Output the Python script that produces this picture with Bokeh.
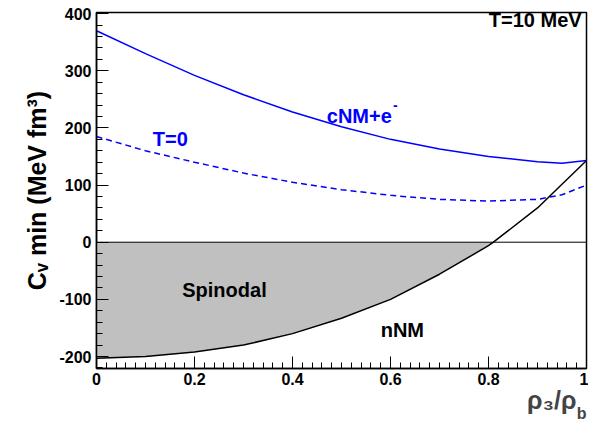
from bokeh.plotting import figure
from bokeh.models import SingleIntervalTicker, Label, Span, Range1d, Title
from bokeh.embed import file_html
from bokeh.resources import INLINE

# data
x_e = [0.0, 0.1, 0.2, 0.3, 0.4, 0.5, 0.6, 0.7, 0.8, 0.9, 0.95, 1.0]
y_e = [370, 330, 292, 258, 228, 202, 180, 163, 150, 141, 138, 143]
x_t0 = [0.0, 0.1, 0.2, 0.3, 0.4, 0.5, 0.6, 0.7, 0.8, 0.9, 0.95, 1.0]
y_t0 = [185, 160, 140, 121, 105, 92, 82, 75, 72, 75, 83, 100]
x_n = [0.0, 0.1, 0.2, 0.3, 0.4, 0.5, 0.6, 0.7, 0.8, 0.81, 0.9, 1.0]
y_n = [-203, -200, -192, -180, -160, -133, -100, -56, -6, 0, 60, 143]
FONT = "Liberation Sans"

p = figure(width=588, height=428, output_backend="svg", toolbar_location=None,
           x_range=Range1d(0, 1), y_range=Range1d(-221, 402),
           min_border_left=96, min_border_right=2, min_border_top=12, min_border_bottom=60)
p.grid.visible = False
p.outline_line_color = "black"
p.outline_line_width = 1.5
p.xaxis.ticker = SingleIntervalTicker(interval=0.2, num_minor_ticks=10)
p.yaxis.ticker = SingleIntervalTicker(interval=100, num_minor_ticks=5)
p.xaxis.major_label_overrides = {0: "0", 0.2: "0.2", 0.4: "0.4", 0.6: "0.6", 0.8: "0.8", 1: "1"}
p.yaxis.major_label_overrides = {-200: "-200", -100: "-100"}
for ax in (p.xaxis, p.yaxis):
    ax.major_tick_in = 12
    ax.major_tick_out = 0
    ax.minor_tick_in = 6
    ax.minor_tick_out = 0
    ax.major_label_text_font = FONT
    ax.major_label_text_font_style = "bold"
    ax.major_label_text_font_size = "16px"
    ax.major_label_text_color = "black"
    ax.axis_line_width = 1.5
    ax.axis_label_text_font = FONT
    ax.axis_label_text_font_style = "bold"
    ax.axis_label_text_font_size = "25px"
    ax.axis_label_text_color = "black"
p.xaxis.major_label_standoff = 4
p.yaxis.axis_label = "Cᵥ min (MeV fm³)"

# x axis label: rho_3 / rho_b built from two stacked titles
p.add_layout(Title(text="ρ₃/ρ", align="right", offset=10, standoff=-8, text_font=FONT,
                   text_font_style="bold", text_font_size="25px", text_line_height=0.8), "below")
p.add_layout(Title(text="b", align="right", offset=0, standoff=-14, text_font=FONT,
                   text_font_style="bold", text_font_size="16px", text_line_height=0.6), "below")

xs = [x for x, y in zip(x_n, y_n) if y <= 0]
ys = [y for y in y_n if y <= 0]
p.varea(x=xs, y1=ys, y2=[0] * len(xs), fill_color="#c0c0c0")
p.add_layout(Span(location=0, dimension="width", line_color="black", line_width=1))
p.line(x_e, y_e, line_color="blue", line_width=1.5)
p.line(x_t0, y_t0, line_color="blue", line_width=1.5, line_dash="6 4")
p.line(x_n, y_n, line_color="black", line_width=1.5)

def lab(x, y, t, size="20px", color="black", align="left"):
    p.add_layout(Label(x=x, y=y, text=t, text_font=FONT, text_font_style="bold",
                       text_font_size=size, text_color=color, text_align=align))

lab(0.99, 370, "T=10 MeV", align="right")
lab(0.115, 162, "T=0", color="blue")
lab(0.47, 202, "cNM+e", color="blue")
lab(0.605, 232, "-", size="14px", color="blue")
lab(0.175, -102, "Spinodal")
lab(0.58, -172, "nNM")

open("out.html", "w").write(file_html(p, INLINE))
